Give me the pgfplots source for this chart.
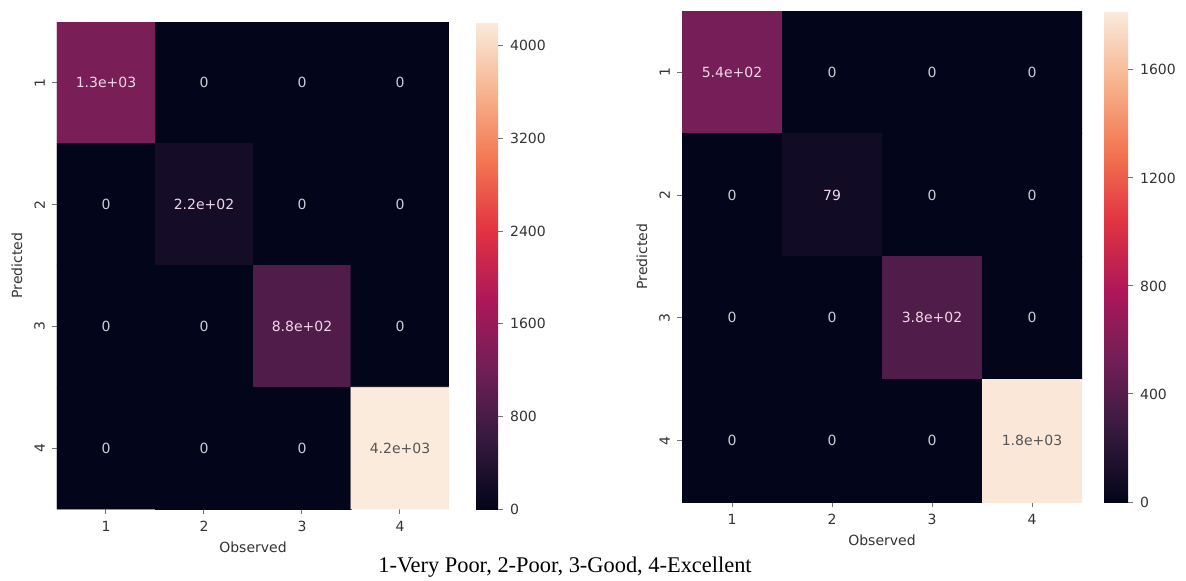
\documentclass[border=0pt]{standalone}
\usepackage{fontspec}
\setmainfont{DejaVu Sans}
\newfontfamily\capfont{Liberation Serif}
\usepackage{pgfplots}
\pgfplotsset{compat=1.18}
\pgfkeys{/pgf/number format/.cd, 1000 sep={}, assume math mode=true}
\definecolor{zerotxt}{RGB}{205,205,215}
\definecolor{diagtxt}{RGB}{240,215,232}
\definecolor{darktxt}{RGB}{85,85,85}
\definecolor{cmzero}{RGB}{3,5,26}
\pgfplotsset{
 colormap={rocket}{rgb255=(3,5,26) rgb255=(53,25,62) rgb255=(112,31,87) rgb255=(173,23,89) rgb255=(225,51,66) rgb255=(243,118,81) rgb255=(246,180,143) rgb255=(250,235,221)},
 cm/.style={
  scale only axis,
  xmin=0.5,xmax=4.5,ymin=0.5,ymax=4.5,
  y dir=reverse,
  axis background/.style={fill=cmzero},
  xtick={1,2,3,4}, ytick={1,2,3,4},
  xticklabels={1,2,3,4}, yticklabels={1,2,3,4},
  yticklabel style={rotate=90, anchor=south},
  axis line style={draw=none},
  tick align=outside,
  xtick pos=left, ytick pos=left,
  major tick length=2.5pt,
  tick style={draw=black!55, line width=0.5pt},
  ticklabel style={font=\fontsize{7}{8}\selectfont, text=black!80},
  xlabel={Observed}, ylabel={Predicted},
  every axis x label/.style={at={(axis description cs:0.5,0)}, yshift=-19pt, anchor=center, font=\fontsize{7}{8}\selectfont, text=black!80},
  every axis y label/.style={at={(axis description cs:0,0.5)}, xshift=-20pt, rotate=90, anchor=center, font=\fontsize{7}{8}\selectfont, text=black!80},
  colorbar,
 },
 cbar/.style={
  at={(parent axis.north east)}, anchor=north west,
  axis line style={draw=none},
  tick align=outside, ytick pos=right, yticklabel pos=right,
  major tick length=2.5pt,
  tick style={draw=black!55, line width=0.5pt},
  ticklabel style={font=\fontsize{7}{8}\selectfont, text=black!80},
 },
 ann/.style={only marks, mark=none, nodes near coords, point meta=explicit symbolic,
  every node near coord/.append style={anchor=center, font=\fontsize{7}{8}\selectfont, text=#1}},
 cells/.style={matrix plot*, shader=faceted, faceted color=mapped color, line width=0.3pt, mesh/cols=4, point meta=explicit},
}
\begin{document}
\begin{tikzpicture}
\useasboundingbox (0,0) rectangle (593pt,-290pt);
% Left confusion matrix
\begin{axis}[cm, at={(28.5pt,-11pt)}, anchor=north west, width=196pt, height=243.5pt,
  point meta min=0, point meta max=4206,
  colorbar style={cbar, xshift=5pt, width=11pt, ytick={0,800,1600,2400,3200,4000}}]
\addplot[cells] table[meta=c]{
x y c
1 1 1300
2 1 0
3 1 0
4 1 0
1 2 0
2 2 220
3 2 0
4 2 0
1 3 0
2 3 0
3 3 880
4 3 0
1 4 0
2 4 0
3 4 0
4 4 4200
};
\addplot[ann=zerotxt] table[meta=t]{
x y t
2 1 0
3 1 0
4 1 0
1 2 0
3 2 0
4 2 0
1 3 0
2 3 0
4 3 0
1 4 0
2 4 0
3 4 0
};
\addplot[ann=diagtxt] table[meta=t]{
x y t
1 1 1.3e+03
2 2 2.2e+02
3 3 8.8e+02
};
\addplot[ann=darktxt] table[meta=t]{
x y t
4 4 4.2e+03
};
\end{axis}
% Right confusion matrix
\begin{axis}[cm, at={(341pt,-5.5pt)}, anchor=north west, width=200pt, height=245.5pt,
  point meta min=0, point meta max=1818,
  colorbar style={cbar, xshift=2.5pt, width=12pt, ytick={0,400,800,1200,1600}}]
\addplot[cells] table[meta=c]{
x y c
1 1 540
2 1 0
3 1 0
4 1 0
1 2 0
2 2 79
3 2 0
4 2 0
1 3 0
2 3 0
3 3 380
4 3 0
1 4 0
2 4 0
3 4 0
4 4 1800
};
\addplot[ann=zerotxt] table[meta=t]{
x y t
2 1 0
3 1 0
4 1 0
1 2 0
3 2 0
4 2 0
1 3 0
2 3 0
4 3 0
1 4 0
2 4 0
3 4 0
};
\addplot[ann=diagtxt] table[meta=t]{
x y t
1 1 5.4e+02
2 2 79
3 3 3.8e+02
};
\addplot[ann=darktxt] table[meta=t]{
x y t
4 4 1.8e+03
};
\end{axis}
\node[anchor=base, font=\capfont\fontsize{11.2}{13}\selectfont] at (282.5pt,-286pt) {1-Very Poor, 2-Poor, 3-Good, 4-Excellent};
\end{tikzpicture}
\end{document}
